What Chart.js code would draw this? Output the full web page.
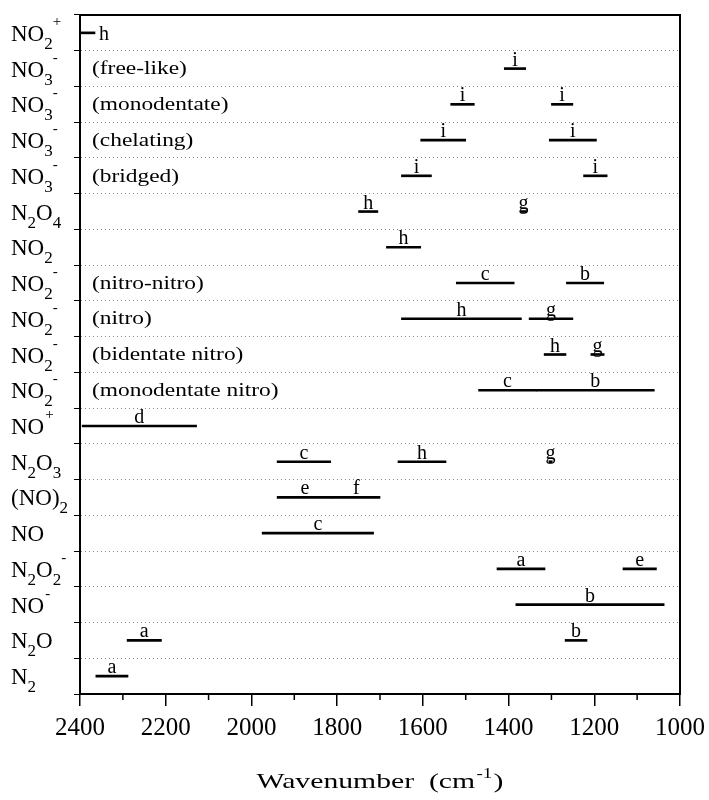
<!DOCTYPE html>
<html>
<head>
<meta charset="utf-8">
<script src="https://cdn.jsdelivr.net/npm/chart.js@4"></script>
<style>
  body { margin: 0; background: #fff; }
</style>
</head>
<body>
<canvas id="myChart" width="709" height="800"></canvas>
<script>
/* species on the y axis, top to bottom ( _ = subscript, ^ = superscript ) */
const formulas = ['NO_2^+', 'NO_3^-', 'NO_3^-', 'NO_3^-', 'NO_3^-', 'N_2O_4', 'NO_2',
  'NO_2^-', 'NO_2^-', 'NO_2^-', 'NO_2^-', 'NO^+', 'N_2O_3', '(NO)_2', 'NO',
  'N_2O_2^-', 'NO^-', 'N_2O', 'N_2'];
const modes = ['', '(free-like)', '(monodentate)', '(chelating)', '(bridged)', '', '',
  '(nitro-nitro)', '(nitro)', '(bidentate nitro)', '(monodentate nitro)', '', '', '', '',
  '', '', '', ''];
const categories = formulas.map((f, i) => modes[i] ? f + ' ' + modes[i] : f);

/* absorption bands: row index, range (cm-1), reference letter */
const bandRow  = [0, 1, 2, 2, 3, 3, 4, 4, 5, 5, 6, 7, 7, 8, 8, 9, 9, 10, 10, 11,
  12, 12, 12, 13, 13, 14, 15, 15, 16, 17, 17, 18];
const bandFrom = [2400, 1410, 1535, 1300, 1605, 1305, 1650, 1225, 1750, 1372, 1685, 1522, 1265,
  1650, 1352, 1317, 1208, 1470, 1335, 2395, 1940, 1658, 1306, 1940, 1810, 1975, 1427, 1133,
  1383, 2290, 1268, 2363];
const bandTo   = [2365, 1360, 1480, 1250, 1500, 1195, 1580, 1170, 1705, 1358, 1605, 1387, 1178,
  1370, 1250, 1266, 1177, 1335, 1060, 2128, 1815, 1546, 1298, 1810, 1700, 1715, 1315, 1055,
  1037, 2210, 1217, 2288];
const bandRef  = ['h', 'i', 'i', 'i', 'i', 'i', 'i', 'i', 'h', 'g', 'h', 'c', 'b',
  'h', 'g', 'h', 'g', 'c', 'b', 'd', 'c', 'h', 'g', 'e', 'f', 'c', 'a', 'e',
  'b', 'a', 'b', 'a'];

const xTicks = [1000, 1200, 1400, 1600, 1800, 2000, 2200, 2400];
const xMinor = [1100, 1300, 1500, 1700, 1900, 2100, 2300];

const serif = "'Liberation Serif', 'DejaVu Serif', serif";

// split 'NO_2^+' into normal / sub / sup pieces
function parseFormula(s) {
  const parts = [];
  let i = 0;
  while (i < s.length) {
    const c = s[i];
    if (c === '_' || c === '^') {
      parts.push({ t: s[i + 1], kind: c === '_' ? 'sub' : 'sup' });
      i += 2;
    } else {
      if (parts.length && parts[parts.length - 1].kind === 'n') parts[parts.length - 1].t += c;
      else parts.push({ t: c, kind: 'n' });
      i++;
    }
  }
  return parts;
}

const drawText = {
  id: 'drawText',
  afterDraw(chart) {
    const { ctx, chartArea: a, scales: { x, y } } = chart;
    ctx.save();
    ctx.fillStyle = '#000';
    ctx.strokeStyle = '#000';

    // frame
    ctx.lineWidth = 2;
    ctx.strokeRect(a.left, a.top, a.right - a.left, a.bottom - a.top);

    // minor ticks
    ctx.lineWidth = 1.5;
    xMinor.forEach(v => {
      const px = x.getPixelForValue(v);
      ctx.beginPath();
      ctx.moveTo(px, a.bottom);
      ctx.lineTo(px, a.bottom + 6);
      ctx.stroke();
    });

    // species names
    categories.forEach((cat, i) => {
      const yc = y.getPixelForValue(i);
      let px = 11;
      let prev = null;
      parseFormula(formulas[i]).forEach(p => {
        if (p.kind === 'n') {
          ctx.font = '23px ' + serif;
          ctx.fillText(p.t, px, yc + 8);
        } else if (p.kind === 'sub') {
          ctx.font = '17px ' + serif;
          ctx.fillText(p.t, px, yc + 16);
        } else {
          ctx.font = '15px ' + serif;
          if (prev === 'sub') px -= 1;
          ctx.fillText(p.t, px + 1, yc - 7);
        }
        px += ctx.measureText(p.t).width;
        prev = p.kind;
      });
      if (modes[i]) {
        ctx.save();
        ctx.font = '18px ' + serif;
        ctx.textBaseline = 'middle';
        ctx.translate(a.left + 12, yc + 1);
        ctx.scale(1.3, 1);
        ctx.fillText(modes[i], 0, 0);
        ctx.restore();
      }
    });

    // band letters
    ctx.font = '20px ' + serif;
    chart.getDatasetMeta(0).data.forEach((bar, i) => {
      const { x: x1, y: yb, base } = bar.getProps(['x', 'y', 'base'], true);
      const lo = Math.min(x1, base), hi = Math.max(x1, base);
      if (hi - lo < 20 && lo - a.left < 4) {
        ctx.textAlign = 'left';
        ctx.textBaseline = 'middle';
        ctx.fillText(bandRef[i], hi + 4, yb + 2);
      } else {
        ctx.textAlign = 'center';
        ctx.textBaseline = 'alphabetic';
        ctx.fillText(bandRef[i], (lo + hi) / 2, yb - 3);
      }
    });

    // x axis title with superscript
    ctx.textAlign = 'left';
    ctx.textBaseline = 'alphabetic';
    const s = 1.35;
    ctx.font = '22px ' + serif;
    const t1 = 'Wavenumber  (cm', t3 = ')';
    const w1 = ctx.measureText(t1).width, w3 = ctx.measureText(t3).width;
    ctx.font = '14px ' + serif;
    const w2 = ctx.measureText('-1').width + 2;
    ctx.translate((a.left + a.right) / 2 - (w1 + w2 + w3) * s / 2, 788);
    ctx.scale(s, 1);
    ctx.font = '22px ' + serif;
    ctx.fillText(t1, 0, 0);
    ctx.font = '14px ' + serif;
    ctx.fillText('-1', w1 + 1, -10);
    ctx.font = '22px ' + serif;
    ctx.fillText(t3, w1 + w2, 0);
    ctx.restore();
  }
};

const ctx = document.getElementById('myChart').getContext('2d');

const chart = new Chart(ctx, {
  type: 'bar',
  data: {
    labels: categories,
    datasets: [{
      data: bandRow.map((r, i) => ({ y: categories[r], x: [bandFrom[i], bandTo[i]] })),
      backgroundColor: '#000',
      borderWidth: 0,
      barThickness: 2,
      grouped: false,
    }]
  },
  options: {
    indexAxis: 'y',
    responsive: false,
    animation: false,
    layout: { padding: { left: 0, top: 15, right: 29, bottom: 0 } },
    plugins: {
      legend: { display: false },
      tooltip: { enabled: false },
    },
    scales: {
      x: {
        type: 'linear',
        reverse: true,
        min: 1000,
        max: 2400,
        afterBuildTicks: scale => { scale.ticks = xTicks.map(v => ({ value: v })); },
        afterFit: scale => { scale.height = 106; },
        grid: { drawOnChartArea: false, tickLength: 12, tickColor: '#000', lineWidth: 1.5 },
        border: { color: '#000', width: 2 },
        ticks: {
          autoSkip: false,
          maxRotation: 0,
          padding: 7,
          color: '#000',
          font: { family: serif, size: 25 },
          callback: v => String(v),
        },
      },
      y: {
        afterFit: scale => { scale.width = 80; },
        grid: { color: '#8a8a8a', lineWidth: 1, tickColor: '#000', tickLength: 6, tickBorderDash: [] },
        border: { color: '#000', width: 2, dash: [1, 3] },
        ticks: { callback: () => '', padding: 0 },
      },
    },
  },
  plugins: [drawText],
});
</script>
</body>
</html>
